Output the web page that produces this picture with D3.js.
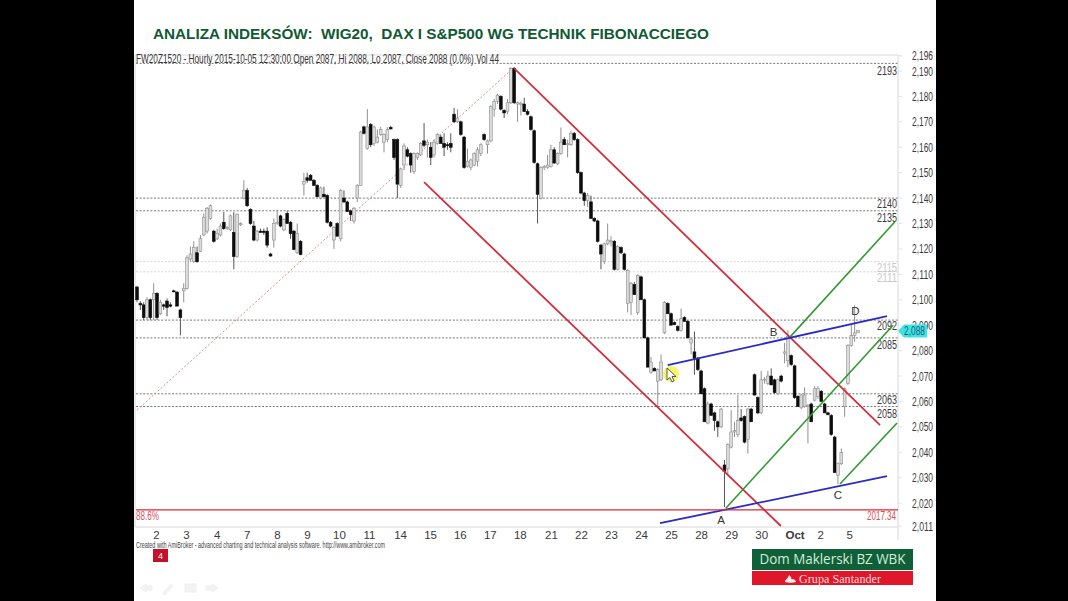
<!DOCTYPE html>
<html>
<head>
<meta charset="utf-8">
<script src="https://d3js.org/d3.v7.min.js"></script>
<style>
html,body{margin:0;padding:0;background:#000;}
svg{display:block;}
text{font-family:"Liberation Sans",Arial,sans-serif;white-space:pre;}
</style>
</head>
<body>
<svg id="chart" width="1068" height="601"></svg>
<script>
// Hourly FW20Z1520 candles, one entry per session hour
const opens = [
2105,2098.5,2098,2093,2100,2100,2102.5,2094.5,2098,2099.5,
2098,2103.5,2103,2096,2103.5,2104.5,2116,2115,2118.5,2119,
2125.5,2127,2132,2127,2124,2125.5,2130.5,2128,2127.5,2126.5,
2117,2129.5,2140,2143,2135.5,2129,2123.5,2127,2127,2127,
2118,2123.5,2130,2133,2127.5,2134,2130.5,2127,2118.5,2123,
2145.5,2148,2149,2147,2145,2140,2141.5,2141,2130.5,2123.5,
2130,2124,2140,2138.5,2135,2131,2140,2145,2168,2159.5,
2169,2161.5,2162,2165,2162,2163,2167.8,2163,2163,2145,
2153,2159,2157.5,2150.5,2156,2157,2162.5,2161,2160,2157,
2161.5,2164,2161.5,2161,2161.5,2173,2170,2170,2164,2152.5,
2152,2153,2154.5,2157.5,2165,2161,2162.5,2175,2178,2180,
2174.5,2174,2177.5,2191,2177,2177,2177,2174,2172,2166.5,
2153.5,2140,2152,2152,2152.5,2159,2153.5,2157.5,2163,2161,
2161,2165.5,2163,2150,2142,2139,2138.5,2132,2131,2121.5,
2115,2122,2123,2123,2112,2120.5,2118,2098.5,2099,2106,
2095,2109,2100,2085,2071.5,2073,2068,2068.5,2087,2098.5,
2094.5,2091,2089.5,2088,2093,2091.5,2083,2079.5,2077,2072,
2065,2051.5,2059,2055.5,2052,2050,2035,2033.5,2042,2048,
2047,2053.5,2054,2045,2057,2070.5,2061.5,2055.5,2068.5,2067,
2070,2068.5,2063,2070,2079,2076,2078,2074,2062,2057.5,
2058,2058,2059,2060.5,2062,2064,2059,2055.5,2054.5,2046,
2031,2035.5,2058,2067,2082,2086,2087];
const highs = [
2105.5,2099.5,2099,2101,2100.5,2106.5,2103,2100,2098.5,2100.5,
2099,2104,2103.5,2096.5,2106.5,2117.5,2121,2123,2121,2125.5,
2134,2136.5,2137.5,2127.5,2128,2130,2134.5,2129,2133.5,2134.5,
2134,2130.5,2147,2144,2136,2131,2127.5,2128,2128,2128.5,
2118.5,2132,2135.5,2133.5,2132,2135,2131,2127.5,2130,2123.5,
2150,2150,2149.5,2147.5,2145.5,2144.5,2144.5,2141.5,2131,2129,
2130.5,2143.5,2143,2139,2135.5,2136.5,2145.5,2166.5,2168.5,2175,
2169.5,2168.5,2167,2168,2165.5,2168,2168.5,2163.5,2163.5,2152,
2161.5,2160,2158,2158,2158,2162,2169.5,2163,2162,2163,
2165.5,2165,2165.5,2162,2165.5,2175.5,2175,2170.5,2164.5,2159.5,
2155.5,2158,2160,2161.5,2165.5,2163,2176.5,2179,2181,2180.5,
2175,2179,2191.5,2191.5,2178,2178,2179.5,2175,2172.5,2167,
2154,2152.5,2153,2157,2161,2160,2158,2167.8,2164,2163,
2166.5,2166,2163.5,2150.5,2142.5,2142,2141,2132.5,2131.5,2122,
2122.5,2130,2125,2123.5,2121.5,2121,2118.5,2112,2107,2107,
2110,2109.5,2100.5,2085.5,2077.5,2073.5,2073,2078.5,2099.5,2099,
2095,2091.5,2090,2096.5,2093.5,2092,2085,2087.5,2077.5,2072.5,
2065.5,2060,2059.5,2056,2052.5,2057.5,2037,2043.5,2056.5,2052,
2062.5,2057,2054.5,2057.5,2057.5,2071,2062,2072,2069.5,2072,
2073,2069,2069,2070.5,2083,2088,2078.5,2074.5,2062.5,2063,
2065.5,2059,2059.5,2066,2066,2064.5,2059.5,2056,2055,2046.5,
2036,2041.5,2065.5,2082.5,2090,2097.8,2088];
const lows = [
2099,2096,2092,2092,2092,2092,2092,2094,2096,2093.5,
2097,2103,2097.5,2086,2099,2104,2115,2114.5,2114.5,2118.8,
2125,2126,2131.5,2122.5,2123.5,2125,2127.5,2127.5,2127,2112,
2116.5,2129,2139.5,2136.5,2129.5,2123,2123,2126.5,2125.5,2120.5,
2117,2120.5,2129.5,2128.5,2127,2130,2124,2119.5,2118,2117.5,
2141,2146,2147,2145,2140.5,2139.5,2140.5,2130,2128.5,2120,
2125,2123,2138,2134.5,2131,2130,2138.5,2145,2165,2159,
2160,2160.5,2161.5,2164.5,2158,2162,2167,2155,2140,2144,
2151,2156,2150,2149.5,2155,2156.5,2160,2156,2153,2156,
2161,2161.5,2156.5,2159,2158,2169.5,2169.5,2164.5,2151.5,2152,
2151,2152.5,2152.5,2156.5,2162.5,2157.5,2162,2172,2177,2174.5,
2171.5,2173,2177,2177,2170,2172.5,2174,2172.5,2166.5,2153.5,
2130,2139.5,2151,2151.5,2152,2153.5,2153,2157,2160.8,2156,
2160.5,2162.5,2149.5,2141.5,2137,2136.5,2132,2130.5,2122.5,2112,
2114,2121.5,2121,2111.5,2111.5,2118,2111.5,2095,2094,2102,
2094,2100,2085,2073.5,2071,2072,2057.8,2068,2086.5,2094.5,
2090,2090,2087.5,2087.5,2091.5,2085,2078.5,2070.5,2072,2063,
2052,2051,2054.5,2048.5,2046,2049.5,2018.5,2031,2041.5,2046,
2046,2052,2043.5,2039.5,2052,2062.5,2055,2055,2067,2066.5,
2066.5,2063,2062.5,2067.5,2075,2073.5,2074,2061,2058,2057,
2057.5,2043.5,2052,2060,2061,2060,2055.5,2054.5,2046.5,2032,
2027.5,2035,2054,2066.5,2081.5,2083.5,2087];
const closes = [
2100,2098,2093,2100,2093,2102.5,2093,2099,2097.5,2097,
2097.5,2103.2,2097.5,2093,2104.5,2116.5,2118,2120.5,2115,2124,
2132.5,2136,2137,2123,2126,2129,2128,2128.5,2133,2117,
2133.5,2130,2143,2137,2130,2123.5,2127,2126.5,2126.5,2121.5,
2117.2,2130,2130.5,2129,2131.5,2130,2126,2119.8,2126,2117.8,
2146.5,2147,2147,2145,2140.5,2144,2140.5,2130.5,2129,2128.5,
2125,2143,2138.5,2134.7,2133.5,2136,2145,2166,2165.5,2168,
2161,2168,2164,2167,2165,2167,2167.2,2156,2145.5,2151.5,
2160.5,2156.5,2153,2157.5,2157.5,2161.5,2160.8,2162,2156,2162,
2165,2161.5,2160,2160.8,2160,2170,2171.5,2165,2152,2154.5,
2155,2157.5,2159,2161,2163,2162.5,2176,2178,2180.5,2175,
2173.5,2177.5,2191,2177.5,2177.5,2177.2,2174,2173,2167,2154,
2141.5,2152,2152.5,2153,2159,2153.8,2157.5,2162,2161,2161.5,
2165.5,2163,2150,2142,2139,2141,2132,2131,2123,2118,
2122,2123.5,2123.2,2112,2121,2118.5,2112,2111.5,2106.5,2102,
2109.5,2100,2085,2073.5,2075.5,2072,2072.5,2075.5,2099,2094.5,
2090,2090.2,2088,2092.5,2091.5,2085,2084.5,2077,2072.5,2063,
2052,2059,2054.5,2052.5,2050,2057,2032.5,2043,2048,2048.5,
2052.5,2052.5,2044,2057,2052,2062.5,2055.5,2068.5,2068.8,2070,
2066.5,2063.5,2068.5,2068,2079.5,2085.5,2074.5,2061.5,2058,2062.5,
2062.5,2058.5,2052,2065,2065,2060,2055.5,2054.8,2047,2032,
2035.5,2040,2065,2082,2086,2087,2088];

// Price axis and session labels
const priceTicks = [2011,2020,2030,2040,2050,2060,2070,2080,2090,2100,2110,2120,2130,2140,2150,2160,2170,2180,2190,2196];
const sessionLabels = ["2","3","4","7","8","9","10","11","14","15","16","17","18","21","22","23","24","25","28","29","30","Oct","2","5"];
const sessionBars = [5.7,14.7,23.9,32.9,41.9,50.9,60.5,69.5,78.8,87.8,96.7,105.7,114.7,124,133,142,151,160,169,178,187,197,204.7,213.4];

// Horizontal retracement levels
const levelValues = [2193,2140,2135,2115,2111,2092,2085,2063,2058];
const levelOffsets = [8,6,7,6,6,6,7,6,7];
const fibLevel = 2017.34;
const lastClose = 2088;

// Trend lines as [bar, price, bar, price]
const redLines = [[113,2191,222.6,2050.7],[86,2146.3,192.9,2011]];
const blueLines = [[156.7,2012.1,224.7,2030.6],[159,2074.3,224.7,2093.6]];
const greenLines = [[176.4,2018,226.5,2090],[195.6,2085.3,227,2130.6],[210.6,2027.5,227.7,2051.5]];
const swingLine = [0,2056.6,113,2191.5];
const swingNames = ["A","B","C","D"];
const swingBars = [175,190.7,210,215.2];
const swingPrices = [2013.4,2087.3,2023.1,2095.5];

const svg = d3.select("#chart");
const x = d3.scaleLinear().domain([0,216]).range([137,858]);
const y = d3.scaleLinear().domain([2011,2190]).range([526,71]);
const green = "#0f5a32", plotRight = 898, plotLeft = 135;

// Slide background
svg.append("rect").attr("x",134).attr("y",0).attr("width",802).attr("height",601).attr("fill","#fff");
svg.append("text").attr("x",153).attr("y",39).attr("font-size",14.6).attr("font-weight","bold")
  .attr("fill",green).attr("textLength",556).attr("lengthAdjust","spacingAndGlyphs")
  .text("ANALIZA INDEKSÓW:  WIG20,  DAX I S&P500 WG TECHNIK FIBONACCIEGO");

// Plot frame
const frame = svg.append("g").attr("stroke","#d8d8d8").attr("fill","none");
frame.append("path").attr("d",`M${plotLeft},527H${plotRight}M${plotRight},55V540M${plotLeft},55V527M${plotLeft},55H${plotRight}`);
// Small price axis tick marks on the frame
svg.append("g").attr("stroke","#e2e2e2").selectAll("line").data(priceTicks).join("line")
  .attr("x1",plotRight).attr("x2",plotRight+4).attr("y1",d=>y(d)).attr("y2",d=>y(d));

// Level lines and their value labels
const levels = svg.append("g");
levels.selectAll("line").data(levelValues).join("line")
  .attr("x1",plotLeft+1).attr("x2",plotRight).attr("y1",d=>y(d)).attr("y2",d=>y(d))
  .attr("stroke",d=>(d===2115||d===2111)?"#d4d4d4":"#777").attr("stroke-width",1)
  .attr("stroke-dasharray","2,1.6");
levels.selectAll("text").data(levelValues).join("text")
  .attr("x",plotRight-1).attr("y",(d,i)=>y(d)+levelOffsets[i]+4).attr("text-anchor","end")
  .attr("font-size",12).attr("fill",d=>(d===2115||d===2111)?"#c8c8c8":"#3a3a3a")
  .attr("textLength",20).attr("lengthAdjust","spacingAndGlyphs").text(d=>d);

// Dotted swing line up to the top
svg.append("line").attr("x1",x(swingLine[0])).attr("y1",y(swingLine[1])).attr("x2",x(swingLine[2])).attr("y2",y(swingLine[3]))
  .attr("stroke","#e08a8a").attr("stroke-width",1).attr("stroke-dasharray","2,2");

// Candles
const bars = d3.range(opens.length).map(i=>({i,o:opens[i],h:highs[i],l:lows[i],c:closes[i]}));
const candles = svg.append("g").selectAll("g").data(bars).join("g");
candles.append("line").attr("x1",d=>x(d.i)).attr("x2",d=>x(d.i))
  .attr("y1",d=>y(d.h)).attr("y2",d=>y(d.l))
  .attr("stroke",d=>d.c<d.o?"#555":"#909090").attr("stroke-width",1);
candles.append("rect").attr("x",d=>x(d.i)-1.4).attr("width",2.8)
  .attr("y",d=>y(Math.max(d.o,d.c))).attr("height",d=>Math.max(1,Math.abs(y(d.o)-y(d.c))))
  .attr("fill",d=>d.c<d.o?"#0c0c0c":"#dcdcdc")
  .attr("stroke",d=>d.c<d.o?"#0c0c0c":"#8f8f8f").attr("stroke-width",0.6);

// Trend lines
const drawLines = (rows,colour,width)=>svg.append("g").selectAll("line").data(rows).join("line")
  .attr("x1",d=>x(d[0])).attr("y1",d=>y(d[1])).attr("x2",d=>x(d[2])).attr("y2",d=>y(d[3]))
  .attr("stroke",colour).attr("stroke-width",width);
drawLines(redLines,"#d0303c",1.8);
drawLines(greenLines,"#2f9a2f",1.6);
drawLines(blueLines,"#2a2ac8",1.8);

// Fibonacci level
svg.append("line").attr("x1",plotLeft+1).attr("x2",plotRight).attr("y1",y(fibLevel)).attr("y2",y(fibLevel))
  .attr("stroke","#d92a35").attr("stroke-width",1.4);
svg.append("text").attr("x",136).attr("y",y(fibLevel)+10).attr("font-size",12).attr("fill","#d9505a")
  .attr("textLength",23).attr("lengthAdjust","spacingAndGlyphs").text("88.6%");
svg.append("text").attr("x",896).attr("y",y(fibLevel)+10).attr("font-size",12).attr("fill","#d9505a")
  .attr("text-anchor","end").attr("textLength",29).attr("lengthAdjust","spacingAndGlyphs").text(fibLevel.toFixed(2));

// Swing point letters
svg.append("g").selectAll("text").data(swingNames).join("text")
  .attr("x",(d,i)=>x(swingBars[i])).attr("y",(d,i)=>y(swingPrices[i])+4).attr("text-anchor","middle")
  .attr("font-size",11.5).attr("fill","#333").text(d=>d);

// Session axis along the bottom
const xAxis = d3.axisBottom(x).tickValues(sessionBars).tickSize(0)
  .tickFormat((d,i)=>sessionLabels[i]);
const xg = svg.append("g").attr("transform","translate(0,528)").call(xAxis);
xg.select(".domain").remove();
xg.selectAll("text").attr("dy",0).attr("y",11).attr("font-size",11.5).attr("fill","#3a3a3a")
  .attr("font-weight",(d,i)=>sessionLabels[i]==="Oct"?"bold":"normal");

// Price scale on the right
const yAxis = d3.axisRight(y).tickValues(priceTicks).tickSize(0).tickFormat(d3.format(","));
const yg = svg.append("g").attr("transform","translate(912,0)").call(yAxis);
yg.select(".domain").remove();
yg.selectAll("text").attr("x",0).attr("dy",4).attr("font-size",12).attr("fill","#3a3a3a")
  .attr("textLength",21).attr("lengthAdjust","spacingAndGlyphs");

// Last price badge
const by = y(lastClose)+0.8;
svg.append("path").attr("d",`M898,${by}L904,${by-6.5}H927V${by+6.5}H904Z`).attr("fill","#3fe3e6");
svg.append("text").attr("x",914.5).attr("y",by+4).attr("text-anchor","middle").attr("font-size",12).attr("fill","#1d5f78")
  .attr("textLength",21).attr("lengthAdjust","spacingAndGlyphs").text(d3.format(",")(lastClose));

// Header and footer captions
svg.append("text").attr("x",136).attr("y",63).attr("font-size",12).attr("fill","#333")
  .attr("textLength",363).attr("lengthAdjust","spacingAndGlyphs")
  .text("FW20Z1520 - Hourly 2015-10-05 12:30:00 Open 2087, Hi 2088, Lo 2087, Close 2088 (0.0%) Vol 44");
svg.append("text").attr("x",136).attr("y",548).attr("font-size",8.5).attr("fill","#444")
  .attr("textLength",249).attr("lengthAdjust","spacingAndGlyphs")
  .text("Created with AmiBroker - advanced charting and technical analysis software. http://www.amibroker.com");

// Slide number
svg.append("rect").attr("x",153).attr("y",549).attr("width",15).attr("height",13).attr("fill","#c5102c");
svg.append("text").attr("x",160.5).attr("y",559).attr("text-anchor","middle").attr("font-size",9).attr("fill","#fff").text("4");

// Slide navigation controls, very faint
const nav = svg.append("g").attr("fill","#f3f3f3").attr("stroke","#efefef");
nav.append("path").attr("d","M140,588l6,-4v2h6v4h-6v2z");
nav.append("path").attr("d","M163,593l8,-9 2,2 -8,9z");
nav.append("rect").attr("x",185).attr("y",584).attr("width",11).attr("height",8);
nav.append("path").attr("d","M218,588l-6,-4v2h-6v4h6v2z");

// Pointer with highlight
svg.append("circle").attr("cx",671).attr("cy",374).attr("r",8).attr("fill","#f6f35a").attr("opacity",0.9);
svg.append("path").attr("d","M667,368v12l3,-2.5 2,4.5 2,-1 -2,-4.5h4z").attr("fill","#fff").attr("stroke","#333").attr("stroke-width",0.8);

// Broker logo
svg.append("rect").attr("x",752).attr("y",549).attr("width",161).attr("height",21).attr("fill","#0f5f38");
svg.append("rect").attr("x",752).attr("y",571).attr("width",161).attr("height",14).attr("fill","#e0162b");
svg.append("text").attr("x",832.5).attr("y",564).attr("text-anchor","middle").attr("font-size",14.5).attr("fill","#d5ecd9")
  .attr("style","font-family:'Open Sans',sans-serif").attr("textLength",146).attr("lengthAdjust","spacingAndGlyphs").text("Dom Maklerski BZ WBK");
svg.append("text").attr("x",840).attr("y",583).attr("text-anchor","middle").attr("font-size",11.5).attr("fill","#f7d9d9")
  .attr("style","font-family:'Liberation Serif',serif").attr("textLength",82).attr("lengthAdjust","spacingAndGlyphs").text("Grupa Santander");
svg.append("path").attr("d","M785,582c0,-3 3,-3 4,-7c2,2 3,3 2,4c3,0 5,1 5,3c-3,1 -8,1 -11,0z").attr("fill","#fbeaea");
</script>
</body>
</html>
